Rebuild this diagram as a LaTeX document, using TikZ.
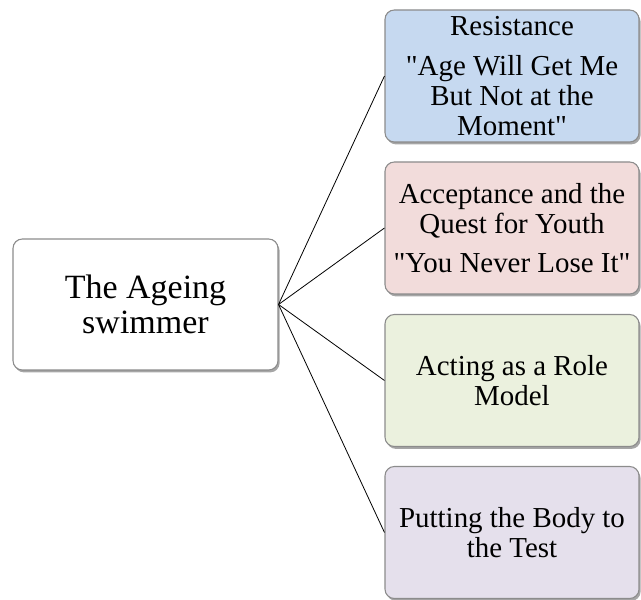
\documentclass[tikz,border=0pt]{standalone}
\usepackage{fontspec}
\setmainfont{Liberation Serif}[Ligatures=TeXOff]
\usepackage{tikz}
\usetikzlibrary{shadows}

\definecolor{boxline}{HTML}{8C8C8C}
\definecolor{resistfill}{HTML}{C6D9F0}
\definecolor{acceptfill}{HTML}{F2DCDB}
\definecolor{rolefill}{HTML}{EBF1DE}
\definecolor{testfill}{HTML}{E5E0EC}

\begin{document}
\begin{tikzpicture}[x=0.75pt, y=0.75pt,
    card/.style={draw=boxline, line width=0.8pt, rounded corners=7pt, align=center,
      drop shadow={shadow xshift=1.2pt, shadow yshift=-1.8pt, fill=black, opacity=0.35}},
    theme/.style={card, minimum width=190.5pt, minimum height=99pt,
      font=\fontsize{21.7pt}{22.5pt}\selectfont},
    link/.style={line width=0.6pt}]
  \useasboundingbox (0,0) rectangle (641,599);

  % Centre of each box
  \coordinate (R) at (145.5,294.5);
  \coordinate (B1) at (512,523);
  \coordinate (B2) at (512,371);
  \coordinate (B3) at (512,218.5);
  \coordinate (B4) at (512,66.5);

  % Root
  \node[card, fill=white, minimum width=198.75pt, minimum height=98.25pt,
        font=\fontsize{25.5pt}{26.25pt}\selectfont] (swimmer) at (R) {The Ageing\\swimmer};

  % Themes
  \node[theme, fill=resistfill] (resist) at (B1)
    {Resistance\\[7pt]"Age Will Get Me\\But Not at the\\Moment"};
  \node[theme, fill=acceptfill] (accept) at (B2)
    {Acceptance and the\\Quest for Youth\\[7pt]"You Never Lose It"};
  \node[theme, fill=rolefill] (rolemodel) at (B3) {Acting as a Role\\Model};
  \node[theme, fill=testfill] (bodytest) at (B4) {Putting the Body to\\the Test};

  % Links
  \foreach \t in {resist,accept,rolemodel,bodytest}
    \draw[link] (swimmer.east) -- (\t.west);
\end{tikzpicture}
\end{document}
